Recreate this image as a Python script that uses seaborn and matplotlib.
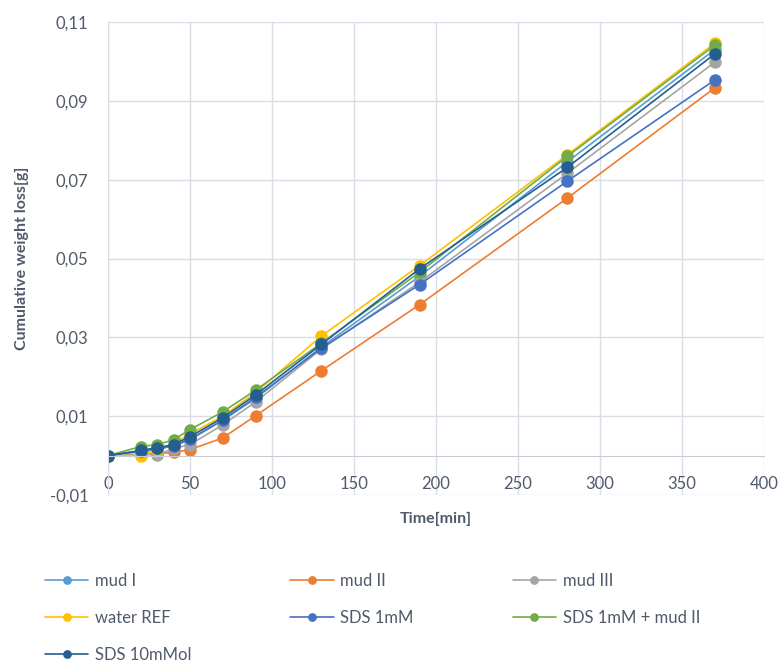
import matplotlib
matplotlib.use("Agg")
import matplotlib.pyplot as plt
import seaborn as sns
import pandas as pd
from matplotlib.ticker import FuncFormatter

# data
time_min = [0, 20, 30, 40, 50, 70, 90, 130, 190, 280, 370]

mud_1 = [0, 0.0010, 0.0015, 0.0025, 0.0040, 0.0090, 0.0145, 0.0275, 0.0455, 0.0745, 0.1030]
mud_2 = [0, 0.0002, 0.0005, 0.0008, 0.0015, 0.0045, 0.0101, 0.0215, 0.0383, 0.0653, 0.0933]
mud_3 = [0, 0.0003, 0.0002, 0.0018, 0.0028, 0.0078, 0.0136, 0.0270, 0.0440, 0.0716, 0.0998]
water_ref = [0, 0.0000, 0.0015, 0.0030, 0.0055, 0.0100, 0.0160, 0.0303, 0.0482, 0.0763, 0.1046]
sds_1mm = [0, 0.0012, 0.0018, 0.0025, 0.0042, 0.0090, 0.0148, 0.0272, 0.0434, 0.0696, 0.0953]
sds_1mm_mud2 = [0, 0.0023, 0.0028, 0.0040, 0.0066, 0.0111, 0.0166, 0.0285, 0.0465, 0.0759, 0.1041]
sds_10mmol = [0, 0.0013, 0.0020, 0.0028, 0.0048, 0.0096, 0.0154, 0.0282, 0.0474, 0.0731, 0.1019]

series_names = ["mud I", "mud II", "mud III", "water REF", "SDS 1mM",
                "SDS 1mM + mud II", "SDS 10mMol"]
series_values = [mud_1, mud_2, mud_3, water_ref, sds_1mm, sds_1mm_mud2, sds_10mmol]
colors = ["#5B9BD5", "#ED7D31", "#A5A5A5", "#FFC000", "#4472C4", "#70AD47", "#255E91"]

y_ticks = [-0.01, 0.01, 0.03, 0.05, 0.07, 0.09, 0.11]
x_ticks = [0, 50, 100, 150, 200, 250, 300, 350, 400]

text_color = "#505a6b"
grid_color = "#d9dde6"

sns.set_style("white")
plt.rcParams['font.family'] = ['Lato', 'DejaVu Sans']

fig = plt.figure(figsize=(7.83, 6.64), dpi=100)
ax = fig.add_axes([108 / 783, 1 - 495 / 664, 656 / 783, 473 / 664])

for name, vals, col in zip(series_names, series_values, colors):
    df = pd.DataFrame({"Time": time_min, "loss": vals})
    sns.lineplot(data=df, x="Time", y="loss", ax=ax, color=col, label=name,
                 marker="o", markersize=9, markeredgewidth=0, linewidth=1.2)

ax.set_xlim(0, 400)
ax.set_ylim(-0.01, 0.11)
ax.set_xticks(x_ticks)
ax.set_yticks(y_ticks)
ax.yaxis.set_major_formatter(FuncFormatter(lambda v, p: f"{v:.2f}".replace(".", ",")))
ax.grid(True, color=grid_color, linewidth=1.0)
ax.set_axisbelow(True)

for s in ["top", "right"]:
    ax.spines[s].set_visible(False)
ax.spines["left"].set_color(grid_color)
ax.spines["bottom"].set_position(("data", 0))
ax.spines["bottom"].set_color("#c8ccd6")
ax.tick_params(axis="both", length=0, labelsize=12, colors=text_color)
ax.tick_params(axis="x", pad=15)
ax.tick_params(axis="y", pad=14)

ax.set_xlabel("Time[min]", fontsize=11.5, fontweight="bold", color=text_color)
ax.xaxis.set_label_coords(0.5, -0.035)
ax.set_ylabel("Cumulative weight loss[g]", fontsize=11.5, fontweight="bold", color=text_color)
ax.yaxis.set_label_coords(-0.12, 0.5)

handles, labels = ax.get_legend_handles_labels()
ax.get_legend().remove()
# matplotlib fills legend columns first; reorder so entries read row by row
order = [0, 3, 6, 1, 4, 2, 5]
fig.legend([handles[i] for i in order], [labels[i] for i in order],
           loc="upper left", ncol=3, frameon=False,
           bbox_to_anchor=(30 / 783, 1 - 558 / 664, 685 / 783, 0), mode="expand",
           fontsize=12, labelcolor=text_color, markerscale=0.7,
           handlelength=2.6, handletextpad=0.4, labelspacing=1.25)

fig.savefig("out.png", dpi=100)
